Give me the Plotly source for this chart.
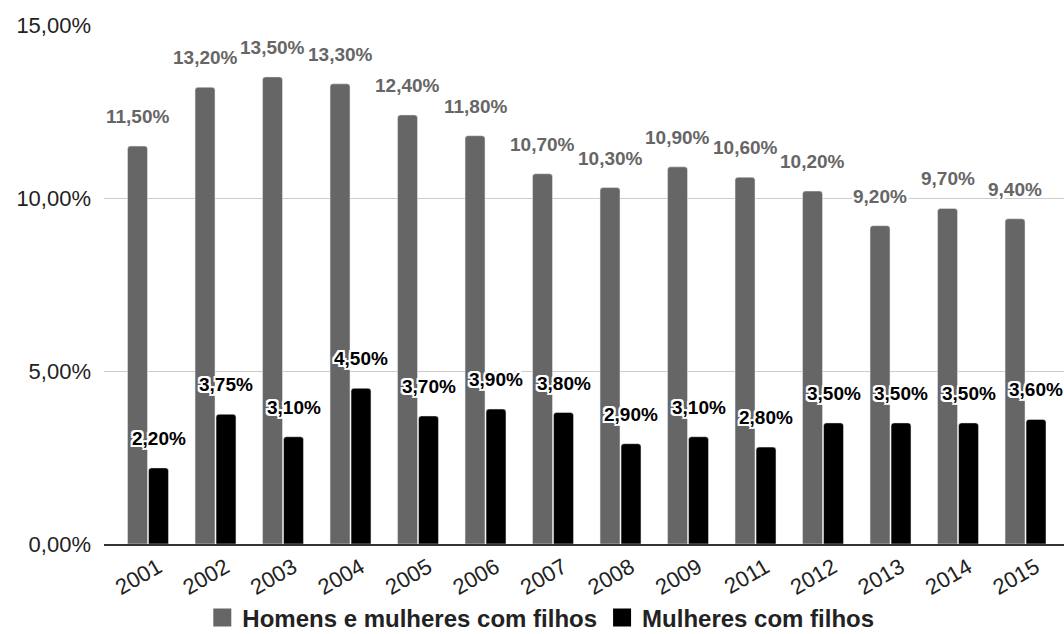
import plotly.graph_objects as go

years = ["2001", "2002", "2003", "2004", "2005", "2006", "2007", "2008", "2009",
         "2011", "2012", "2013", "2014", "2015"]
homens_mulheres = [11.5, 13.2, 13.5, 13.3, 12.4, 11.8, 10.7, 10.3, 10.9, 10.6, 10.2, 9.2, 9.7, 9.4]
mulheres = [2.2, 3.75, 3.1, 4.5, 3.7, 3.9, 3.8, 2.9, 3.1, 2.8, 3.5, 3.5, 3.5, 3.6]
series_names = ["Homens e mulheres com filhos", "Mulheres com filhos"]
y_ticks = [0, 5, 10, 15]

GRAY = "#666666"
BLACK = "#000000"
FONT = "Arial, Liberation Sans, sans-serif"
HALO = ("white 2px 0px 0px, white -2px 0px 0px, white 0px 2px 0px, white 0px -2px 0px, "
        "white 1px 1px 0px, white -1px -1px 0px, white 1px -1px 0px, white -1px 1px 0px, "
        "white 2px 2px 0px, white -2px -2px 0px, white 2px -2px 0px, white -2px 2px 0px")


def fmt(v):
    return f"{v:.2f}".replace(".", ",") + "%"


fig = go.Figure()
fig.add_trace(go.Bar(x=years, y=homens_mulheres, name=series_names[0],
                     marker=dict(color=GRAY), showlegend=False))
fig.add_trace(go.Bar(x=years, y=mulheres, name=series_names[1],
                     marker=dict(color=BLACK), showlegend=False))
# legend proxies
fig.add_trace(go.Scatter(x=[None], y=[None], mode="markers", name=series_names[0],
                         marker=dict(symbol="square", size=16, color=GRAY,
                                     line=dict(color=GRAY, width=2))))
fig.add_trace(go.Scatter(x=[None], y=[None], mode="markers", name=series_names[1],
                         marker=dict(symbol="square", size=16, color=BLACK,
                                     line=dict(color=BLACK, width=2))))

annotations = []
for i, v in enumerate(homens_mulheres):
    annotations.append(dict(x=i, y=v, xref="x", yref="y", text="<b>" + fmt(v) + "</b>",
                            showarrow=False, yanchor="bottom", xanchor="center",
                            xshift=-10.5, yshift=17,
                            font=dict(family=FONT, size=19, color=GRAY, shadow=HALO)))
for i, v in enumerate(mulheres):
    annotations.append(dict(x=i, y=v, xref="x", yref="y", text="<b>" + fmt(v) + "</b>",
                            showarrow=False, yanchor="bottom", xanchor="center",
                            xshift=10.5, yshift=17,
                            font=dict(family=FONT, size=19, color=BLACK, shadow=HALO)))

fig.update_layout(
    width=1064, height=634,
    margin=dict(l=104, r=0, t=25, b=90, autoexpand=False),
    paper_bgcolor="white", plot_bgcolor="white",
    barmode="group", bargap=0.378, bargroupgap=0.05, barcornerradius=3,
    font=dict(family=FONT, color="#222222"),
    annotations=annotations,
    legend=dict(orientation="h", x=0.455, xanchor="center", y=-0.1426, yanchor="middle",
                font=dict(family=FONT, size=24, color="#222222", weight="bold"),
                itemwidth=30, bgcolor="rgba(0,0,0,0)"),
    xaxis=dict(type="category", range=[-0.652, 13.57], tickangle=-30,
               tickfont=dict(family=FONT, size=22, color="#222222"),
               ticklabelshift=10,
               showline=True, linecolor="#333333", linewidth=2, automargin=False,
               showgrid=False, ticks="", fixedrange=True),
    yaxis=dict(range=[0, 15], tickvals=y_ticks, ticktext=[fmt(t) for t in y_ticks],
               tickfont=dict(family=FONT, size=22, color="#222222"), automargin=False,
               showgrid=True, gridcolor="#cccccc", gridwidth=1,
               zeroline=False, ticks="", ticklabelstandoff=12, showline=False),
)

fig.write_html("out.html")
